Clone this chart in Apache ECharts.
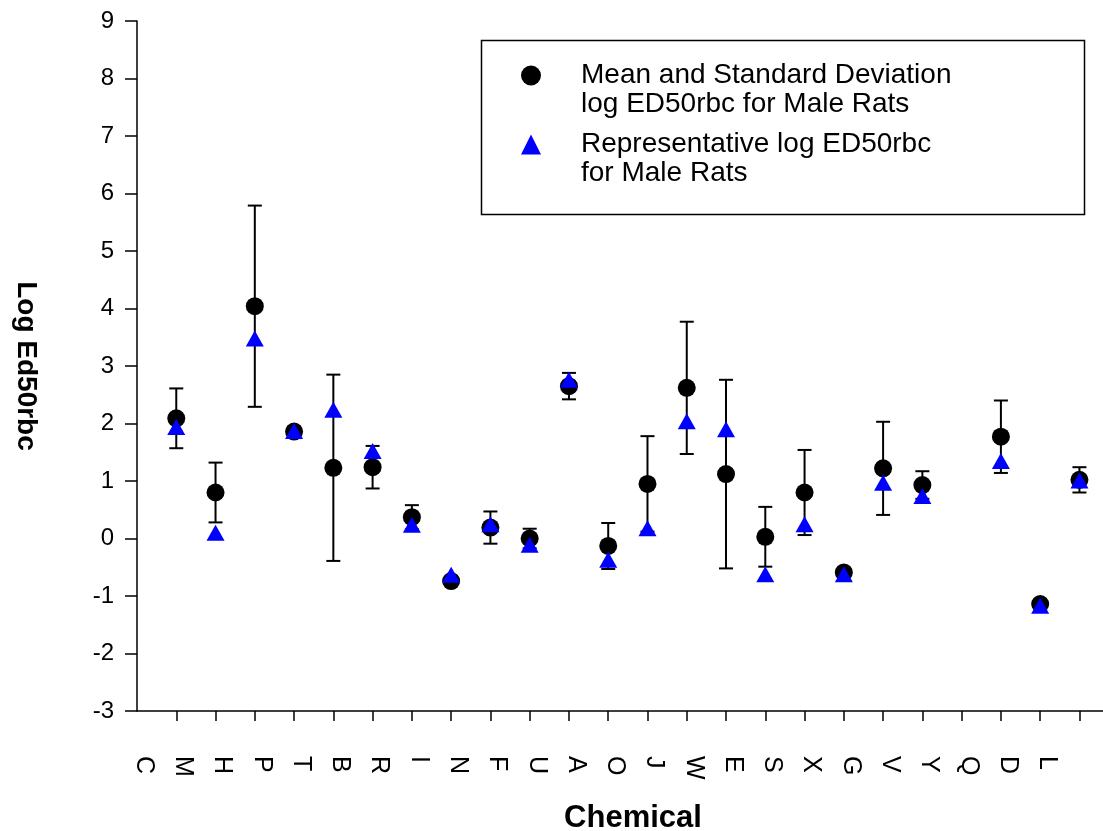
<!DOCTYPE html>
<html>
<head>
<meta charset="utf-8">
<script src="https://cdn.jsdelivr.net/npm/echarts@6/dist/echarts.min.js"></script>
<style>
  html, body { margin: 0; padding: 0; background: #fff; }
  #chart { width: 1103px; height: 831px; }
</style>
</head>
<body>
<div id="chart"></div>
<script>
// chemicals along the x axis
const chemicals = ['C', 'M', 'H', 'P', 'T', 'B', 'R', 'I', 'N', 'F', 'U', 'A',
  'O', 'J', 'W', 'E', 'S', 'X', 'G', 'V', 'Y', 'Q', 'D', 'L']
// mean log ED50rbc for male rats (null = no value)
const meanLog = [2.09, 0.80, 4.04, 1.86, 1.23, 1.24, 0.37, -0.74, 0.19, 0.00, 2.65, -0.13,
  0.95, 2.62, 1.12, 0.03, 0.80, -0.59, 1.22, 0.93, null, 1.77, -1.14, 1.02]
// standard deviation of log ED50rbc
const sdLog = [0.52, 0.52, 1.75, 0.05, 1.62, 0.37, 0.21, 0.05, 0.28, 0.17, 0.23, 0.40,
  0.83, 1.15, 1.64, 0.52, 0.74, 0.05, 0.81, 0.24, null, 0.63, 0.05, 0.22]
// representative log ED50rbc
const repLog = [1.94, 0.10, 3.48, 1.87, 2.24, 1.52, 0.24, -0.63, 0.25, -0.11, 2.76, -0.37,
  0.18, 2.04, 1.90, -0.62, 0.25, -0.62, 0.97, 0.74, null, 1.35, -1.17, 1.01]

const meanName = 'Mean and Standard Deviation\nlog ED50rbc for Male Rats'
const repName = 'Representative log ED50rbc\nfor Male Rats'
const font = 'Liberation Sans'
const positions = chemicals.map((c, i) => i + 1)

const meanData = []
const errData = []
const repData = []
meanLog.forEach((m, i) => {
  if (m === null) return
  meanData.push([i + 1, m])
  errData.push([i + 1, m, sdLog[i]])
})
repLog.forEach((r, i) => {
  if (r !== null) repData.push([i + 1, r])
})

const option = {
  animation: false,
  backgroundColor: '#fff',
  grid: {
    left: 137,
    right: 0,
    top: 21,
    bottom: 120,
    outerBoundsMode: 'none'
  },
  legend: {
    orient: 'vertical',
    left: 521,
    top: 32,
    padding: 0,
    itemGap: -18,
    itemWidth: 20,
    itemHeight: 20,
    selectedMode: false,
    // blank first line so the icon sits beside the first line of text
    formatter: name => ' \n' + name,
    textStyle: {
      fontFamily: font,
      fontSize: 28,
      lineHeight: 29,
      color: '#000',
      padding: [0, 0, 0, 35],
      backgroundColor: 'rgba(0,0,0,0)'
    },
    data: [
      { name: meanName, icon: 'circle' },
      { name: repName, icon: 'triangle' }
    ]
  },
  graphic: [{
    type: 'rect',
    left: 479,
    top: 38,
    z: -1,
    shape: { width: 603, height: 174 },
    style: { fill: 'none', stroke: '#000', lineWidth: 1.5 }
  }],
  xAxis: {
    type: 'value',
    min: 0,
    max: 24.6,
    name: 'Chemical',
    nameLocation: 'middle',
    nameGap: 92,
    nameTextStyle: {
      fontFamily: font, fontSize: 31, fontWeight: 'bold', color: '#000',
      padding: [0, 0, 0, 26]
    },
    axisLine: { show: true, onZero: false, lineStyle: { color: '#000', width: 1.5 } },
    axisTick: { show: true, length: 10, customValues: positions, lineStyle: { color: '#000', width: 1.5 } },
    axisLabel: {
      customValues: positions,
      formatter: v => chemicals[Math.round(v) - 1] || '',
      rotate: -90,
      verticalAlign: 'top',
      padding: [20, 0, 0, 0],
      margin: 45,
      fontFamily: font,
      fontSize: 25,
      color: '#000'
    },
    splitLine: { show: false }
  },
  yAxis: {
    type: 'value',
    min: -3,
    max: 9,
    interval: 1,
    name: 'Log Ed50rbc',
    nameLocation: 'middle',
    nameRotate: -90,
    nameGap: 97,
    nameTextStyle: { fontFamily: font, fontSize: 28, fontWeight: 'bold', color: '#000' },
    axisLine: { show: true, lineStyle: { color: '#000', width: 1.5 } },
    axisTick: { show: true, length: 12, lineStyle: { color: '#000', width: 1.5 } },
    axisLabel: { margin: 23, fontFamily: font, fontSize: 24, color: '#000' },
    splitLine: { show: false }
  },
  series: [
    {
      type: 'custom',
      name: 'sd',
      data: errData,
      z: 1,
      silent: true,
      renderItem: function (params, api) {
        const x = api.value(0)
        const m = api.value(1)
        const s = api.value(2)
        const top = api.coord([x, m + s])
        const bot = api.coord([x, m - s])
        const hw = 7
        const style = { stroke: '#000', lineWidth: 2 }
        return {
          type: 'group',
          children: [
            { type: 'line', shape: { x1: top[0], y1: top[1], x2: bot[0], y2: bot[1] }, style: style },
            { type: 'line', shape: { x1: top[0] - hw, y1: top[1], x2: top[0] + hw, y2: top[1] }, style: style },
            { type: 'line', shape: { x1: bot[0] - hw, y1: bot[1], x2: bot[0] + hw, y2: bot[1] }, style: style }
          ]
        }
      }
    },
    {
      name: meanName,
      type: 'scatter',
      symbol: 'circle',
      symbolSize: 18,
      z: 2,
      itemStyle: { color: '#000', opacity: 1 },
      data: meanData
    },
    {
      name: repName,
      type: 'scatter',
      symbol: 'triangle',
      symbolSize: [18, 16],
      z: 3,
      itemStyle: { color: '#0000ff', opacity: 1 },
      data: repData
    }
  ]
}

const myChart = echarts.init(document.getElementById('chart'))
myChart.setOption(option)
window.addEventListener('resize', () => {
  myChart.resize()
})
</script>
</body>
</html>
